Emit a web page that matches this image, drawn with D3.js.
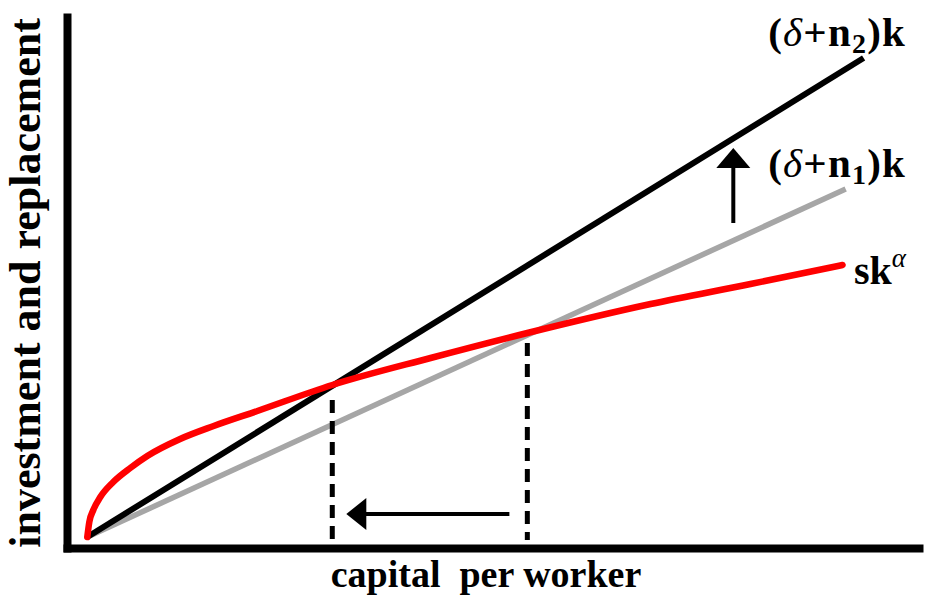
<!DOCTYPE html>
<meta charset='utf-8'>
<body style='margin:0;background:#fff'>
<script src='https://cdn.jsdelivr.net/npm/d3@7'></script>
<script>

    // values (k = capital per worker, v = investment / replacement)
    var kHigh = [0, 9.95], vHigh = [0, 9.58];        // (delta+n2)k
    var kLow = [0, 9.72], vLow = [0, 6.96];          // (delta+n1)k
    var kInv = [0, 0.026, 0.077, 0.167, 0.333, 0.551, 0.769, 1.19, 1.62, 2.18, 3.14, 4.40, 5.64, 7.22, 8.50, 9.68];
    var vInv = [0, 0.30, 0.54, 0.80, 1.10, 1.38, 1.62, 1.96, 2.22, 2.52, 3.04, 3.58, 4.08, 4.66, 5.06, 5.44];
    var kSteady = [3.14, 5.64], vSteadyTop = [2.74, 3.88];
    var popGrowth = ['2', '1'];   // subscripts of n in the two replacement labels

    var width = 926, height = 597;
    var colors = { black: '#000000', gray: '#a6a6a6', red: '#ff0000' };
    var font = '"Liberation Serif", "Times New Roman", Times, serif';

    var svg = d3.select('body').append('svg')
        .attr('width', width)
        .attr('height', height);

    var x = d3.scaleLinear().domain([-0.26, 10.66]).range([67, 919]);
    var y = d3.scaleLinear().domain([-0.22, 10.40]).range([548, 17]);

    // axes: bare thick lines, no ticks
    svg.append('g')
        .attr('transform', 'translate(0,' + y(-0.22) + ')')
        .call(d3.axisBottom(x).tickValues([]).tickSizeOuter(0))
        .select('.domain').attr('stroke-width', 8).attr('stroke-linecap', 'square');

    svg.append('g')
        .attr('transform', 'translate(' + x(-0.26) + ',0)')
        .call(d3.axisLeft(y).tickValues([]).tickSizeOuter(0))
        .select('.domain').attr('stroke-width', 8).attr('stroke-linecap', 'square');

    var line = d3.line()
        .x(function(d){ return x(d[0]); })
        .y(function(d){ return y(d[1]); });

    svg.append('path')
        .attr('d', line(d3.zip(kLow, vLow)))
        .attr('fill', 'none')
        .attr('stroke', colors.gray)
        .attr('stroke-width', 5.5);

    svg.append('path')
        .attr('d', line(d3.zip(kHigh, vHigh)))
        .attr('fill', 'none')
        .attr('stroke', colors.black)
        .attr('stroke-width', 6);

    svg.append('path')
        .attr('d', line.curve(d3.curveMonotoneX)(d3.zip(kInv, vInv)))
        .attr('fill', 'none')
        .attr('stroke', colors.red)
        .attr('stroke-width', 6.5)
        .attr('stroke-linecap', 'round');

    // dashed drops to the axis
    svg.selectAll('line.drop')
        .data(kSteady)
        .enter()
        .append('line')
        .attr('class', 'drop')
        .attr('x1', function(d){ return x(d); })
        .attr('x2', function(d){ return x(d); })
        .attr('y1', function(d, i){ return y(vSteadyTop[i]); })
        .attr('y2', y(-0.06))
        .attr('stroke', colors.black)
        .attr('stroke-width', 5)
        .attr('stroke-dasharray', '13,8');

    // arrow: steady state moves left
    var leftArrow = { y: 0.46, from: 5.41, to: 3.32 };
    svg.append('line')
        .attr('x1', x(leftArrow.from)).attr('x2', x(leftArrow.to) + 15)
        .attr('y1', y(leftArrow.y)).attr('y2', y(leftArrow.y))
        .attr('stroke', colors.black).attr('stroke-width', 4);
    svg.append('path')
        .attr('d', 'M' + x(leftArrow.to) + ',' + y(leftArrow.y) +
                   'L' + (x(leftArrow.to) + 20) + ',' + (y(leftArrow.y) - 16) +
                   'L' + (x(leftArrow.to) + 20) + ',' + (y(leftArrow.y) + 16) + 'Z')
        .attr('fill', colors.black);

    // arrow: replacement line shifts up
    var upArrow = { x: 8.28, from: 6.28, to: 7.78 };
    svg.append('line')
        .attr('x1', x(upArrow.x)).attr('x2', x(upArrow.x))
        .attr('y1', y(upArrow.from)).attr('y2', y(upArrow.to) + 15)
        .attr('stroke', colors.black).attr('stroke-width', 4);
    svg.append('path')
        .attr('d', 'M' + x(upArrow.x) + ',' + y(upArrow.to) +
                   'L' + (x(upArrow.x) - 17) + ',' + (y(upArrow.to) + 20) +
                   'L' + (x(upArrow.x) + 17) + ',' + (y(upArrow.to) + 20) + 'Z')
        .attr('fill', colors.black);

    // line labels
    function labelText(py, size, spacing){
        return svg.append('text')
            .attr('x', 906).attr('y', py)
            .attr('text-anchor', 'end')
            .style('font-family', font)
            .style('font-weight', 'bold')
            .style('font-size', size + 'px')
            .style('letter-spacing', spacing + 'px')
            .attr('fill', colors.black);
    }

    function addReplacementLabel(sub, py){
        var t = labelText(py, 41, 1.2);
        t.append('tspan').text('(');
        t.append('tspan').style('font-style', 'italic').style('font-weight', 'normal').text('δ');
        t.append('tspan').text('+n');
        t.append('tspan').attr('dy', 7).style('font-size', '28px').text(sub);
        t.append('tspan').attr('dy', -7).text(')k');
    }

    addReplacementLabel(popGrowth[0], 46);
    addReplacementLabel(popGrowth[1], 177);

    var inv = labelText(284, 40, 0);
    inv.append('tspan').text('sk');
    inv.append('tspan')
        .attr('dy', -17)
        .style('font-size', '27px')
        .style('font-style', 'italic')
        .style('font-weight', 'normal')
        .text('α');

    // axis titles
    svg.append('text')
        .attr('x', 486).attr('y', 587)
        .attr('text-anchor', 'middle')
        .style('font-family', font)
        .style('font-weight', 'bold')
        .style('font-size', '38px')
        .style('white-space', 'pre')
        .text('capital  per worker');

    svg.append('text')
        .attr('transform', 'translate(40,283) rotate(-90)')
        .attr('text-anchor', 'middle')
        .style('font-family', font)
        .style('font-weight', 'bold')
        .style('font-size', '44px')
        .text('investment and replacement');

</script>
</body>
